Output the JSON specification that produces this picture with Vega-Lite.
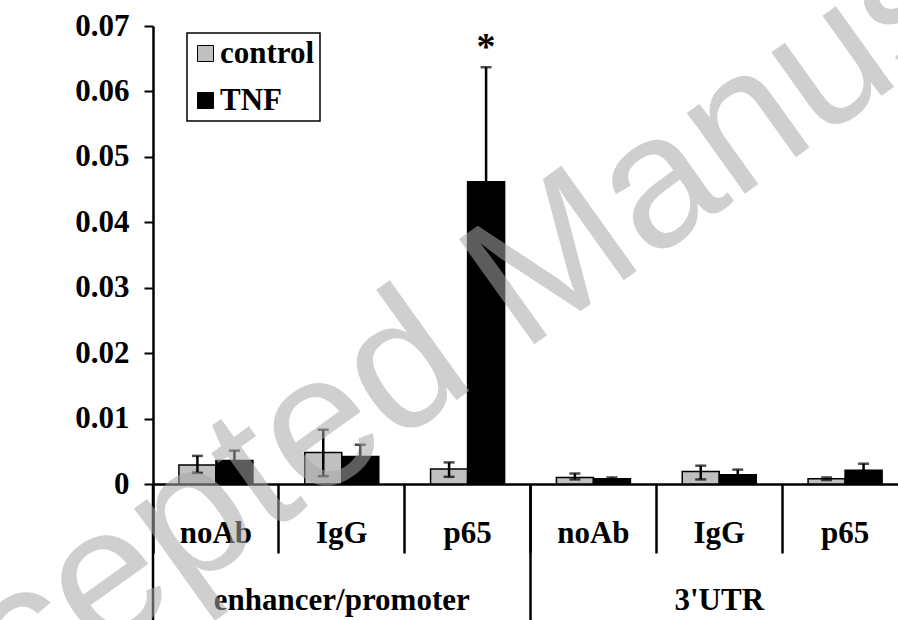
{
  "$schema": "https://vega.github.io/schema/vega-lite/v6.json",
  "width": 745,
  "height": 458,
  "autosize": "none",
  "padding": {"left": 153, "top": 26, "right": 0, "bottom": 136},
  "background": "white",
  "config": {
    "view": {"stroke": null},
    "font": "Liberation Serif",
    "legend": {"strokeWidth": 1.5}
  },
  "datasets": {
    "chip": [
      {"region": "enhancer/promoter", "ab": "noAb", "key": "enhancer/promoter|noAb", "cond": "control", "value": 0.0029, "lo": 0.0017, "hi": 0.0043, "sig": ""},
      {"region": "enhancer/promoter", "ab": "noAb", "key": "enhancer/promoter|noAb", "cond": "TNF", "value": 0.0036, "lo": 0.0021, "hi": 0.0051, "sig": ""},
      {"region": "enhancer/promoter", "ab": "IgG", "key": "enhancer/promoter|IgG", "cond": "control", "value": 0.0048, "lo": 0.0012, "hi": 0.0083, "sig": ""},
      {"region": "enhancer/promoter", "ab": "IgG", "key": "enhancer/promoter|IgG", "cond": "TNF", "value": 0.0042, "lo": 0.0024, "hi": 0.0060, "sig": ""},
      {"region": "enhancer/promoter", "ab": "p65", "key": "enhancer/promoter|p65", "cond": "control", "value": 0.0023, "lo": 0.0011, "hi": 0.0033, "sig": ""},
      {"region": "enhancer/promoter", "ab": "p65", "key": "enhancer/promoter|p65", "cond": "TNF", "value": 0.0462, "lo": 0.0287, "hi": 0.0637, "sig": "*"},
      {"region": "3'UTR", "ab": "noAb", "key": "3'UTR|noAb", "cond": "control", "value": 0.0010, "lo": 0.0007, "hi": 0.0016, "sig": ""},
      {"region": "3'UTR", "ab": "noAb", "key": "3'UTR|noAb", "cond": "TNF", "value": 0.0008, "lo": 0.0006, "hi": 0.0010, "sig": ""},
      {"region": "3'UTR", "ab": "IgG", "key": "3'UTR|IgG", "cond": "control", "value": 0.0019, "lo": 0.0007, "hi": 0.0028, "sig": ""},
      {"region": "3'UTR", "ab": "IgG", "key": "3'UTR|IgG", "cond": "TNF", "value": 0.0014, "lo": 0.0006, "hi": 0.0022, "sig": ""},
      {"region": "3'UTR", "ab": "p65", "key": "3'UTR|p65", "cond": "control", "value": 0.0008, "lo": 0.0006, "hi": 0.0010, "sig": ""},
      {"region": "3'UTR", "ab": "p65", "key": "3'UTR|p65", "cond": "TNF", "value": 0.0021, "lo": 0.0011, "hi": 0.0031, "sig": ""}
    ]
  },
  "data": {"name": "chip"},
  "layer": [
    {
      "mark": {"type": "bar", "stroke": "black", "strokeWidth": 1.5},
      "encoding": {
        "x": {
          "field": "key",
          "type": "nominal",
          "sort": null,
          "scale": {
            "domain": ["enhancer/promoter|noAb", "enhancer/promoter|IgG", "enhancer/promoter|p65", "3'UTR|noAb", "3'UTR|IgG", "3'UTR|p65"],
            "range": [0, 755],
            "paddingInner": 0,
            "paddingOuter": 0
          },
          "axis": {
            "title": null,
            "domainColor": "black",
            "domainWidth": 2.5,
            "ticks": true,
            "tickColor": "black",
            "tickWidth": 2.5,
            "tickSize": 69,
            "bandPosition": 0,
            "labelAngle": 0,
            "labelExpr": "split(datum.value, '|')[1] == 'IgG' ? ['IgG', split(datum.value, '|')[0]] : split(datum.value, '|')[1]",
            "labelFont": "Liberation Serif",
            "labelFontWeight": "bold",
            "labelFontSize": 31,
            "labelColor": "black",
            "labelBaseline": "top",
            "labelPadding": -35,
            "labelLineHeight": 67,
            "labelLimit": 0,
            "labelOverlap": false
          }
        },
        "xOffset": {
          "field": "cond",
          "type": "nominal",
          "scale": {"domain": ["control", "TNF"], "paddingInner": 0, "paddingOuter": 0.7}
        },
        "y": {
          "field": "value",
          "type": "quantitative",
          "scale": {"domain": [0, 0.07], "nice": false},
          "axis": {
            "title": "Fraction of Input",
            "values": [0, 0.01, 0.02, 0.03, 0.04, 0.05, 0.06, 0.07],
            "labelExpr": "datum.value == 0 ? '0' : format(datum.value, '.2f')",
            "grid": false,
            "domainColor": "black",
            "domainWidth": 2.5,
            "tickColor": "black",
            "tickWidth": 2,
            "tickSize": 9,
            "labelFont": "Liberation Serif",
            "labelFontWeight": "bold",
            "labelFontSize": 31,
            "labelColor": "black",
            "labelPadding": 15,
            "labelFlush": false,
            "labelOverlap": false,
            "titleFont": "Liberation Serif",
            "titleFontWeight": "bold",
            "titleFontSize": 31,
            "titleColor": "black",
            "titlePadding": 26
          }
        },
        "color": {
          "field": "cond",
          "type": "nominal",
          "scale": {"domain": ["control", "TNF"], "range": ["#c0c0c0", "#000000"]},
          "legend": {
            "title": null,
            "orient": "none",
            "legendX": 34,
            "legendY": 7,
            "strokeColor": "black",
            "fillColor": "white",
            "padding": 5,
            "symbolType": "square",
            "symbolSize": 256,
            "symbolStrokeColor": "black",
            "symbolStrokeWidth": 1,
            "symbolOffset": -2,
            "labelFont": "Liberation Serif",
            "labelFontWeight": "bold",
            "labelFontSize": 31,
            "labelColor": "black",
            "labelOffset": -1,
            "rowPadding": 15
          }
        }
      }
    },
    {
      "mark": {"type": "rule", "strokeWidth": 2.5, "color": "black"},
      "encoding": {
        "x": {"field": "key", "type": "nominal"},
        "xOffset": {"field": "cond", "type": "nominal"},
        "y": {"field": "lo", "type": "quantitative", "scale": {"domain": [0, 0.07], "nice": false}, "title": null},
        "y2": {"field": "hi"}
      }
    },
    {
      "mark": {"type": "tick", "orient": "horizontal", "size": 11, "thickness": 2.5, "color": "black"},
      "encoding": {
        "x": {"field": "key", "type": "nominal"},
        "xOffset": {"field": "cond", "type": "nominal"},
        "y": {"field": "hi", "type": "quantitative", "scale": {"domain": [0, 0.07], "nice": false}, "title": null}
      }
    },
    {
      "mark": {"type": "tick", "orient": "horizontal", "size": 11, "thickness": 2.5, "color": "black"},
      "encoding": {
        "x": {"field": "key", "type": "nominal"},
        "xOffset": {"field": "cond", "type": "nominal"},
        "y": {"field": "lo", "type": "quantitative", "scale": {"domain": [0, 0.07], "nice": false}, "title": null}
      }
    },
    {
      "transform": [{"filter": "datum.ab == 'noAb' && datum.cond == 'control'"}],
      "mark": {"type": "rule", "strokeWidth": 2.5, "color": "black"},
      "encoding": {
        "x": {"field": "key", "type": "nominal", "bandPosition": 0},
        "y": {"datum": 0},
        "y2": {"datum": -0.0208}
      }
    },
    {
      "transform": [{"filter": "datum.sig == '*'"}],
      "mark": {"type": "text", "font": "Liberation Serif", "fontWeight": "bold", "fontSize": 38, "baseline": "alphabetic", "dy": -8, "color": "black"},
      "encoding": {
        "x": {"field": "key", "type": "nominal"},
        "xOffset": {"field": "cond", "type": "nominal"},
        "y": {"field": "hi", "type": "quantitative", "scale": {"domain": [0, 0.07], "nice": false}, "title": null},
        "text": {"field": "sig"}
      }
    },
    {
      "data": {"values": [{"stamp": "Accepted Manuscript"}]},
      "mark": {"type": "text", "font": "Liberation Sans", "fontSize": 188, "angle": -35.6, "align": "center", "baseline": "alphabetic", "color": "#a8a8a8", "opacity": 0.55},
      "encoding": {
        "x": {"datum": "3'UTR|noAb", "bandPosition": 0.2},
        "y": {"datum": 0.0237},
        "text": {"field": "stamp"}
      }
    }
  ]
}
